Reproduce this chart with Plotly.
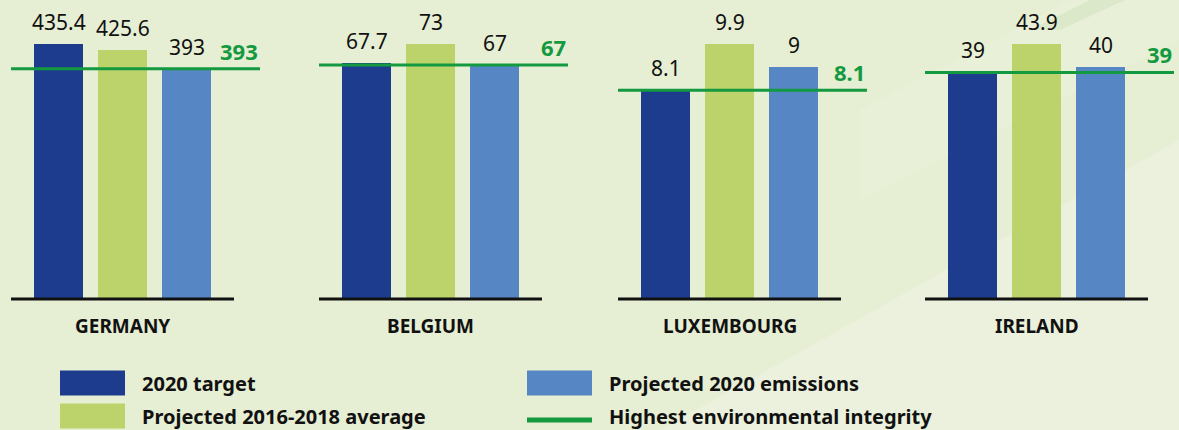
import plotly.graph_objects as go

# ---- data ----
countries = ["GERMANY", "BELGIUM", "LUXEMBOURG", "IRELAND"]
target_2020 = [435.4, 67.7, 8.1, 39]
avg_2016_2018 = [425.6, 73, 9.9, 43.9]
emissions_2020 = [393, 67, 9, 40]
integrity = [393, 67, 8.1, 39]
target_labels = ["435.4", "67.7", "8.1", "39"]
avg_labels = ["425.6", "73", "9.9", "43.9"]
emis_labels = ["393", "67", "9", "40"]
integ_labels = ["393", "67", "8.1", "39"]
series_names = ["2020 target", "Projected 2016-2018 average",
                "Projected 2020 emissions", "Highest environmental integrity"]

# ---- style ----
W, H = 1179, 430
C_TARGET = "#1e3c8e"
C_AVG = "#bbd36a"
C_EMIS = "#5687c4"
C_INTEG = "#13993f"
FONT = "Noto Sans"

panel_left = [34, 342, 641, 948]   # pixel of first bar's left edge
step = 64.0
bar_w = 49.0
x_lo = -0.742
x_axis_hi = 2.742
x_hi = 3.15
base_px = 299

fig = go.Figure()

def px_x(p):
    return p / W

def px_y(p):
    return 1 - p / H

shapes = []
annotations = []

# background streaks
shapes.append(dict(type="path", xref="paper", yref="paper", layer="below",
                   path=f"M {px_x(660)},{px_y(430)} L {px_x(1179)},{px_y(140)} L {px_x(1179)},{px_y(430)} Z",
                   fillcolor="rgba(255,255,255,0.22)", line=dict(width=0)))
shapes.append(dict(type="path", xref="paper", yref="paper", layer="below",
                   path=f"M {px_x(860)},{px_y(110)} L {px_x(1070)},{px_y(0)} L {px_x(1179)},{px_y(0)} L {px_x(1179)},{px_y(40)} L {px_x(860)},{px_y(200)} Z",
                   fillcolor="rgba(255,255,255,0.12)", line=dict(width=0)))
shapes.append(dict(type="path", xref="paper", yref="paper", layer="below",
                   path=f"M {px_x(1030)},{px_y(30)} L {px_x(1090)},{px_y(0)} L {px_x(1125)},{px_y(0)} L {px_x(1060)},{px_y(30)} Z",
                   fillcolor="rgba(190,215,170,0.3)", line=dict(width=0)))

for i, c in enumerate(countries):
    k = "" if i == 0 else str(i + 1)
    xa, ya = "x" + k, "y" + k
    vals = [target_2020[i], avg_2016_2018[i], emissions_2020[i]]
    labs = [target_labels[i], avg_labels[i], emis_labels[i]]
    fig.add_trace(go.Bar(
        x=[0, 1, 2], y=vals, width=bar_w / step,
        marker=dict(color=[C_TARGET, C_AVG, C_EMIS], line=dict(width=0)),
        xaxis=xa, yaxis=ya, showlegend=False, hoverinfo="skip"))

    d0 = panel_left[i] - (0 - x_lo) * step + bar_w / 2
    d1 = d0 + (x_hi - x_lo) * step
    ymax = max(vals) * base_px / (base_px - 44)
    fig.update_layout(**{
        ("xaxis" + k): dict(domain=[px_x(d0), min(px_x(d1), 1)], range=[x_lo, x_hi],
                             visible=False, fixedrange=True, anchor=ya),
        ("yaxis" + k): dict(domain=[px_y(base_px), 1], range=[0, ymax],
                             visible=False, fixedrange=True, anchor=xa),
    })

    # baseline axis line
    shapes.append(dict(type="line", xref=xa + " domain", yref=ya + " domain",
                       x0=0, x1=(x_axis_hi - x_lo) / (x_hi - x_lo), y0=0, y1=0,
                       line=dict(color="#111111", width=3)))
    # highest environmental integrity line
    shapes.append(dict(type="line", xref=xa, yref=ya, x0=x_lo, x1=x_hi,
                       y0=integrity[i], y1=integrity[i],
                       line=dict(color=C_INTEG, width=3)))

    for j in range(3):
        annotations.append(dict(x=j, y=vals[j], xref=xa, yref=ya, text=labs[j],
                                showarrow=False, yanchor="bottom", xanchor="center",
                                yshift=6, font=dict(family=FONT, size=21, color="#111111")))
    annotations.append(dict(x=x_hi, y=integrity[i], xref=xa, yref=ya,
                            text="<b>" + integ_labels[i] + "</b>", showarrow=False,
                            xanchor="right", yanchor="bottom", yshift=1,
                            font=dict(family=FONT, size=22, color=C_INTEG)))
    annotations.append(dict(x=1, y=px_y(326), xref=xa, yref="paper",
                            text="<b>" + c + "</b>", showarrow=False,
                            xanchor="center", yanchor="middle",
                            font=dict(family=FONT, size=19, color="#111111")))

# ---- manual legend ----
leg = [
    (60, 383, C_TARGET, "box", series_names[0]),
    (60, 416, C_AVG, "box", series_names[1]),
    (527, 383, C_EMIS, "box", series_names[2]),
    (527, 420, C_INTEG, "line", series_names[3]),
]
for (lx, ly, col, kind, name) in leg:
    if kind == "box":
        shapes.append(dict(type="rect", xref="paper", yref="paper",
                           x0=px_x(lx), x1=px_x(lx + 65), y0=px_y(ly + 12.5), y1=px_y(ly - 12.5),
                           fillcolor=col, line=dict(width=0)))
    else:
        shapes.append(dict(type="line", xref="paper", yref="paper",
                           x0=px_x(lx), x1=px_x(lx + 65), y0=px_y(ly), y1=px_y(ly),
                           line=dict(color=col, width=5)))
    annotations.append(dict(x=px_x(lx + 80), y=px_y(ly if kind == "box" else 416),
                            xref="paper", yref="paper", text="<b>" + name + "</b>",
                            showarrow=False, xanchor="left", yanchor="middle",
                            font=dict(family=FONT, size=20, color="#111111")))

fig.update_layout(
    width=W, height=H,
    margin=dict(l=0, r=0, t=0, b=0),
    paper_bgcolor="#e6eed3",
    plot_bgcolor="rgba(0,0,0,0)",
    shapes=shapes, annotations=annotations,
    showlegend=False, bargap=0,
)

fig.write_html("out.html", config={"displayModeBar": False, "staticPlot": True})

# remove default page margin so the figure sits at the window's top-left corner
with open("out.html", "r", encoding="utf-8") as f:
    html = f.read()
html = html.replace("<head>", "<head><style>html,body{margin:0;padding:0;overflow:hidden;}</style>", 1)
with open("out.html", "w", encoding="utf-8") as f:
    f.write(html)
